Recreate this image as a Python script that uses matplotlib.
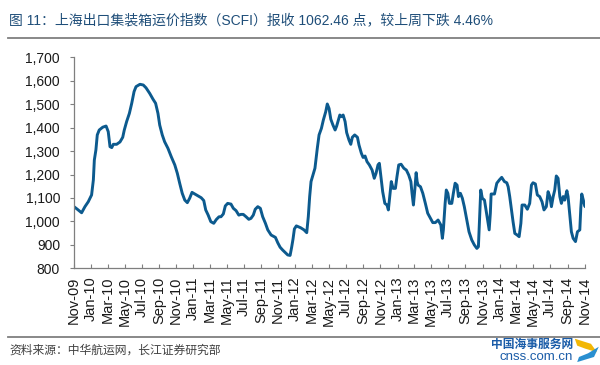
import matplotlib
matplotlib.use('Agg')
import matplotlib.pyplot as plt
import numpy as np
import pandas as pd
from matplotlib.ticker import FuncFormatter
from matplotlib.lines import Line2D
from matplotlib.patches import Polygon

plt.rcParams['font.family'] = ['Liberation Sans', 'Noto Sans CJK SC', 'DejaVu Sans']

# weeks since 2009-11-01 and SCFI values
weeks = [0.0, 1.7, 3.9, 5.6, 7.3, 9.0, 9.9, 10.4, 11.2, 11.9, 12.9, 14.7, 16.4, 17.5, 18.4,
         19.3, 20.1, 21.8, 23.5, 24.9, 25.7, 26.9, 28.3, 29.5, 30.7, 31.7, 33.7, 35.4, 36.8,
         38.7, 40.4, 41.7, 42.9, 43.8, 45.1, 46.3, 48.0, 49.7, 51.5, 52.8, 54.0, 55.3, 56.6,
         57.9, 59.1, 60.3, 61.7, 63.4, 65.0, 66.3, 67.3, 68.5, 69.9, 71.4, 72.7, 74.1,
         75.1, 76.3, 77.3, 78.5, 80.2, 81.4, 82.8, 84.2, 85.3, 86.5, 87.9, 89.3, 90.4, 91.6,
         92.6, 93.9, 95.2, 96.4, 97.8, 99.0, 100.7, 102.9, 104.1, 105.3, 106.6, 108.0, 109.2,
         110.4, 111.2, 111.9, 112.6, 113.6, 115.8, 117.5, 118.9, 119.7, 120.4, 121.1, 122.1,
         123.1, 124.3, 125.2, 126.4, 127.4, 128.6, 129.4, 130.3, 131.2, 132.3, 133.4, 134.2,
         135.1, 135.8, 136.8, 137.5, 138.5, 139.3, 140.5, 141.4, 142.2, 143.4, 144.8, 145.6,
         146.8, 147.7, 148.7, 149.7, 150.9, 152.3, 153.4, 154.3, 155.3, 156.0, 156.7, 157.7,
         158.8, 159.9, 160.6, 161.5, 162.1, 163.0, 164.2, 165.0, 165.9, 167.1, 168.5, 169.8,
         171.0, 172.1, 172.7, 173.4, 174.1, 174.8, 175.3, 175.8, 177.0, 178.2, 179.5, 180.7,
         182.1, 183.3, 184.6, 186.0, 187.4, 188.2, 188.7, 189.6, 190.2, 191.0, 191.8, 193.0,
         193.8, 194.7, 195.7, 196.4, 197.4, 198.4, 199.4, 200.7, 201.8, 203.2, 204.5, 205.8,
         206.6, 207.1, 207.8, 208.6, 209.7, 210.9, 212.1, 212.7, 213.1, 214.8, 216.0, 217.3,
         218.5, 219.9, 221.1, 221.8, 222.6, 223.5, 224.3, 225.2, 226.4, 227.4, 228.3, 228.9,
         230.3, 231.6, 232.8, 233.7, 234.5, 235.7, 236.7, 237.9, 239.1, 240.1, 241.3, 242.2,
         243.1, 243.9, 244.8, 245.6, 246.4, 247.3, 248.2, 249.0, 249.9, 250.7, 251.8, 252.4,
         253.3, 254.1, 255.0, 256.2, 257.2, 258.4, 258.9, 259.4, 260.2, 260.9, 261.3]
values = [1063, 1052, 1037, 1063, 1084, 1113, 1177, 1262, 1305, 1369, 1390, 1402, 1407, 1383, 1319,
          1315, 1329, 1329, 1339, 1359, 1390, 1426, 1461, 1504, 1554, 1575, 1585, 1582, 1570,
          1546, 1521, 1504, 1461, 1411, 1369, 1340, 1312, 1276, 1241, 1205, 1163, 1120, 1091,
          1080, 1099, 1124, 1117, 1109, 1101, 1089, 1049, 1028, 999, 992, 1008, 1020,
          1020, 1032, 1066, 1077, 1074, 1056, 1046, 1027, 1030, 1030, 1020, 1009, 1013, 1027,
          1052, 1063, 1056, 1020, 992, 964, 942, 932, 909, 890, 878, 867, 857,
          855, 890, 925, 968, 981, 973, 964, 952, 1020, 1106, 1170, 1198,
          1227, 1312, 1369, 1397, 1433, 1468, 1501, 1482, 1436, 1411, 1390, 1407,
          1433, 1454, 1447, 1454, 1426, 1379, 1347, 1329, 1359, 1369, 1359, 1326,
          1291, 1273, 1279, 1255, 1241, 1219, 1184, 1205, 1241, 1248, 1198, 1127,
          1077, 1070, 1049, 1120, 1170, 1141, 1141, 1191, 1241, 1244, 1227, 1219,
          1198, 1170, 1120, 1070, 1134, 1208, 1170, 1155, 1148, 1120, 1077, 1035,
          1013, 995, 995, 1006, 985, 928, 964, 1077, 1134, 1120, 1077, 1077,
          1120, 1163, 1155, 1106, 1120, 1099, 1063, 1006, 956, 921, 900, 885,
          892, 992, 1134, 1099, 1091, 1028, 964, 1035, 1117, 1117, 1163, 1177,
          1188, 1170, 1165, 1148, 1106, 1049, 999, 949, 942, 935, 992, 1070,
          1070, 1052, 1077, 1155, 1165, 1160, 1113, 1106, 1084, 1049, 1063, 1127,
          1106, 1063, 1106, 1134, 1194, 1184, 1106, 1077, 1106, 1091, 1131, 1106,
          1028, 956, 928, 914, 956, 964, 1056, 1117, 1091, 1066, 1062]

title = '图 11：上海出口集装箱运价指数（SCFI）报收 1062.46 点，较上周下跌 4.46%'
source = '资料来源：中华航运网，长江证券研究部'

start = pd.Timestamp('2009-11-01')
dates = start + pd.to_timedelta(np.array(weeks) * 7, unit='D')

fig = plt.figure(figsize=(6, 3.65), dpi=100)
ax = fig.add_axes([0.1233, 0.2649, 0.8525, 0.578])
ax.plot(dates, values, color='#0c5a8e', lw=2.1, solid_joinstyle='round', solid_capstyle='round')

ax.set_ylim(800, 1700)
ax.set_yticks(range(800, 1701, 100))
ax.yaxis.set_major_formatter(FuncFormatter(lambda v, p: f'{v:,.0f}'))
ticks = pd.date_range('2009-11-01', '2014-11-01', freq='2MS')
ax.set_xticks(ticks)
ax.set_xticklabels([t.strftime('%b-%y') for t in ticks], rotation=90)
ax.set_xlim(start, dates[-1])

for s in ['top', 'right']:
    ax.spines[s].set_visible(False)
for s in ['left', 'bottom']:
    ax.spines[s].set_color('#7f7f7f')
    ax.spines[s].set_linewidth(0.9)
ax.tick_params(axis='y', direction='out', length=3, width=0.8, color='#7f7f7f',
               labelsize=10, pad=7, labelcolor='#1a1a1a')
ax.tick_params(axis='x', direction='in', length=3, width=0.8, color='#7f7f7f',
               labelsize=10.5, pad=6, labelcolor='#1a1a1a')

fig.text(0.015, 0.945, title, color='#1f4e79', fontsize=10, va='center', ha='left')
fig.add_artist(Line2D([0.013, 1.0], [0.897, 0.897], transform=fig.transFigure,
                      color='#7f7f7f', lw=1.3))
fig.add_artist(Line2D([0.013, 1.0], [0.077, 0.077], transform=fig.transFigure,
                      color='#7f7f7f', lw=1.3))
fig.text(0.015, 0.040, source, color='#404040', fontsize=8.5, va='center', ha='left')
fig.text(0.955, 0.055, '中国海事服务网', color='#1a5ca8', fontsize=8.5, va='center', ha='right',
         fontweight='bold')
fig.text(0.955, 0.022, 'cnss.com.cn', color='#1a5ca8', fontsize=9.5, va='center', ha='right')
# logo swoosh
fig.add_artist(Polygon([[0.958, 0.072], [0.985, 0.058], [0.995, 0.035], [0.975, 0.045], [0.962, 0.053]],
                       closed=True, transform=fig.transFigure, color='#f2b705', lw=0))
fig.add_artist(Polygon([[0.962, 0.008], [0.99, 0.022], [0.998, 0.05], [0.98, 0.032], [0.965, 0.022]],
                       closed=True, transform=fig.transFigure, color='#2a8fd0', lw=0))

fig.savefig('out.png', dpi=100)
